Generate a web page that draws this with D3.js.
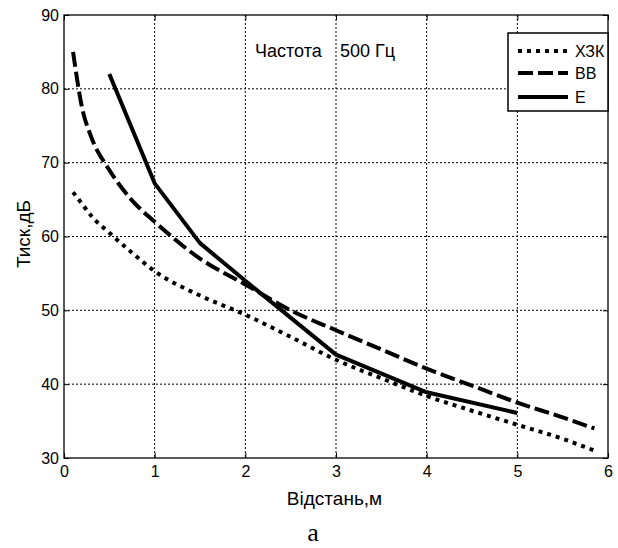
<!DOCTYPE html>
<html>
<head>
<meta charset="utf-8">
<script src="https://cdn.jsdelivr.net/npm/d3@7"></script>
<style>
  html, body { margin: 0; padding: 0; background: #fff; }
  text { font-family: "Liberation Sans", Arial, sans-serif; fill: #000; }
</style>
</head>
<body>
<svg id="chart" width="618" height="548"></svg>
<script>
// ---- data ----
const xTicks = [0, 1, 2, 3, 4, 5, 6];
const yTicks = [30, 40, 50, 60, 70, 80, 90];

const xzkX = [0.1, 0.2, 0.3, 0.5, 0.75, 1, 1.5, 2, 2.5, 3, 3.5, 4, 4.5, 5, 5.5, 5.85];
const xzkY = [66, 64.4, 62.8, 60.5, 57.8, 55.3, 52, 49.4, 46.4, 43.3, 40.8, 38.4, 36.4, 34.5, 32.6, 31];

const bbX = [0.1, 0.2, 0.3, 0.5, 0.75, 1, 1.5, 2, 2.5, 3, 3.5, 4, 4.5, 5, 5.5, 5.85];
const bbY = [85, 77.4, 73.5, 69, 64.9, 62, 57, 53.5, 50, 47.3, 44.7, 42.1, 39.8, 37.5, 35.5, 34];

const eX = [0.5, 1, 1.5, 2, 3, 4, 5];
const eY = [82, 67.2, 59.1, 54, 44, 38.9, 36.1];

const seriesNames = ["ХЗК", "ВВ", "Е"];
const titleParts = ["Частота", "500 Гц"];
const xLabel = "Відстань,м";
const yLabel = "Тиск,дБ";
const caption = "а";

// ---- layout ----
const svg = d3.select("#chart");
const L = 64, R = 608, T = 15, B = 458;
const x = d3.scaleLinear().domain([0, 6]).range([L, R]);
const y = d3.scaleLinear().domain([30, 90]).range([B, T]);

// grid
const g = svg.append("g");
g.selectAll(".vg").data(xTicks.slice(1, -1)).enter().append("line")
  .attr("x1", d => x(d)).attr("x2", d => x(d)).attr("y1", T).attr("y2", B)
  .attr("stroke", "#000").attr("stroke-width", 1).attr("stroke-dasharray", "2,2");
g.selectAll(".hg").data(yTicks.slice(1, -1)).enter().append("line")
  .attr("y1", d => y(d)).attr("y2", d => y(d)).attr("x1", L).attr("x2", R)
  .attr("stroke", "#000").attr("stroke-width", 1).attr("stroke-dasharray", "2,2");

// axes (ticks inward, mirrored)
const tick = 5;
const axB = svg.append("g").attr("transform", `translate(0,${B})`)
  .call(d3.axisBottom(x).tickValues(xTicks).tickSize(-tick).tickPadding(8).tickFormat(d3.format("d")));
const axT = svg.append("g").attr("transform", `translate(0,${T})`)
  .call(d3.axisTop(x).tickValues(xTicks).tickSize(-tick).tickFormat(""));
const axL = svg.append("g").attr("transform", `translate(${L},0)`)
  .call(d3.axisLeft(y).tickValues(yTicks).tickSize(-tick).tickPadding(5).tickFormat(d3.format("d")));
const axR = svg.append("g").attr("transform", `translate(${R},0)`)
  .call(d3.axisRight(y).tickValues(yTicks).tickSize(-tick).tickFormat(""));
[axB, axT, axL, axR].forEach(a => {
  a.select(".domain").remove();
  a.selectAll("line").attr("stroke", "#000").attr("stroke-width", 1);
  a.selectAll("text").attr("font-family", "Liberation Sans, Arial, sans-serif")
    .attr("font-size", 16).attr("fill", "#000");
});
axB.selectAll("text").attr("dy", "0.71em").attr("y", 8);

// box
svg.append("rect").attr("x", L).attr("y", T).attr("width", R - L).attr("height", B - T)
  .attr("fill", "none").attr("stroke", "#000").attr("stroke-width", 1.3);

// lines
const smooth = d3.line().x(d => x(d[0])).y(d => y(d[1])).curve(d3.curveMonotoneX);
const straight = d3.line().x(d => x(d[0])).y(d => y(d[1]));
const styles = [
  { dash: "4,5", gen: smooth },
  { dash: "15,5", gen: smooth },
  { dash: null, gen: straight }
];
const series = [
  d3.zip(xzkX, xzkY),
  d3.zip(bbX, bbY),
  d3.zip(eX, eY)
];
series.forEach((s, i) => {
  svg.append("path").datum(s).attr("d", styles[i].gen)
    .attr("fill", "none").attr("stroke", "#000").attr("stroke-width", 4)
    .attr("stroke-linejoin", "round")
    .attr("stroke-linecap", "butt")
    .attr("stroke-dasharray", styles[i].dash);
});

// title
const tt = svg.append("text").attr("y", 56.5).attr("font-size", 18);
tt.append("tspan").attr("x", 255).text(titleParts[0]);
tt.append("tspan").attr("x", 340).text(titleParts[1]);

// legend
const lg = svg.append("g");
lg.append("rect").attr("x", 508).attr("y", 33).attr("width", 100).attr("height", 78)
  .attr("fill", "#fff").attr("stroke", "#000").attr("stroke-width", 1.5);
const legY = [51, 73, 97];
seriesNames.forEach((n, i) => {
  lg.append("line").attr("x1", 518).attr("x2", 568).attr("y1", legY[i]).attr("y2", legY[i])
    .attr("stroke", "#000").attr("stroke-width", 4)
    .attr("stroke-dasharray", styles[i].dash);
  lg.append("text").attr("x", 575).attr("y", legY[i] + 6).attr("font-size", 16).text(n);
});

// axis labels
svg.append("text").attr("x", 334.5).attr("y", 505).attr("text-anchor", "middle")
  .attr("font-size", 19).text(xLabel);
svg.append("text").attr("transform", "translate(30,234) rotate(-90)")
  .attr("text-anchor", "middle").attr("font-size", 19).text(yLabel);
svg.append("text").attr("x", 313).attr("y", 541).attr("text-anchor", "middle")
  .style("font-family", "'Liberation Serif', 'Times New Roman', serif")
  .attr("font-size", 26).text(caption);
</script>
</body>
</html>
